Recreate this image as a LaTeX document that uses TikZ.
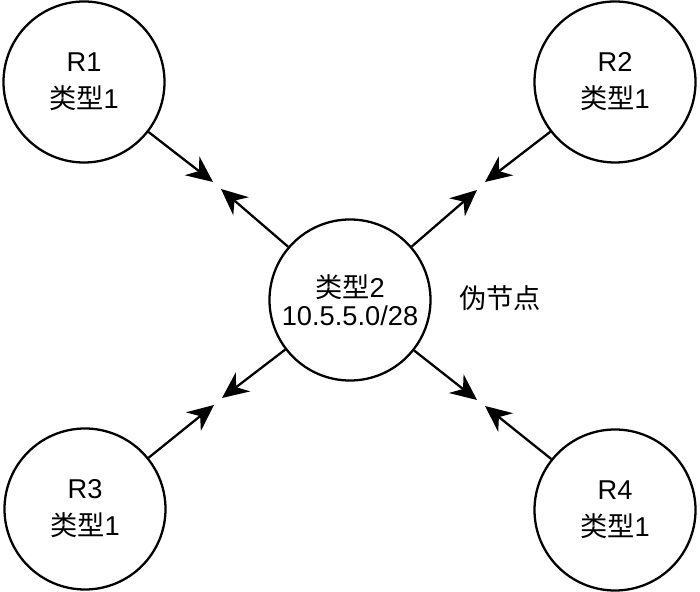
\documentclass[tikz,border=0pt]{standalone}
\usepackage{fontspec}
\setmainfont{Liberation Sans}
\newfontfamily\cjk{Noto Sans CJK SC}
\usetikzlibrary{arrows.meta}

\begin{document}
\begin{tikzpicture}[>={Stealth[length=15pt,width=13.5pt]},line width=1.3pt]
\tikzstyle{rt}=[draw,circle,minimum size=3.22cm,inner sep=0pt,align=center,font=\fontsize{15.5}{21}\selectfont]
\useasboundingbox (0,0) rectangle (14,11.84);
\node[rt] (1) at (1.68,10.2) {R1\\{\cjk 类型}1};
\node[rt] (2) at (12.3,10.2) {R2\\{\cjk 类型}1};
\node[rt] (3) at (1.70,1.66) {R3\\{\cjk 类型}1};
\node[rt] (4) at (12.3,1.64) {R4\\{\cjk 类型}1};
\node[rt,font=\fontsize{15.5}{16}\selectfont] (p) at (7.0,5.84) {{\cjk 类型}2\\10.5.5.0/28};
\node[font=\fontsize{15.5}{18}\selectfont\cjk] (lbl) at (10.0,5.88) {伪节点};
% arrow tips, in pairs
\coordinate (a1) at (4.26,8.20);
\coordinate (b1) at (4.42,8.06);
\coordinate (a2) at (9.70,8.20);
\coordinate (b2) at (9.54,8.04);
\coordinate (a3) at (4.28,3.74);
\coordinate (b3) at (4.44,3.88);
\coordinate (a4) at (9.70,3.72);
\coordinate (b4) at (9.54,3.84);
\draw[->] (1) -- (a1);
\draw[->] (p) -- (b1);
\draw[->] (2) -- (a2);
\draw[->] (p) -- (b2);
\draw[->] (3) -- (a3);
\draw[->] (p) -- (b3);
\draw[->] (4) -- (a4);
\draw[->] (p) -- (b4);
\end{tikzpicture}
\end{document}
